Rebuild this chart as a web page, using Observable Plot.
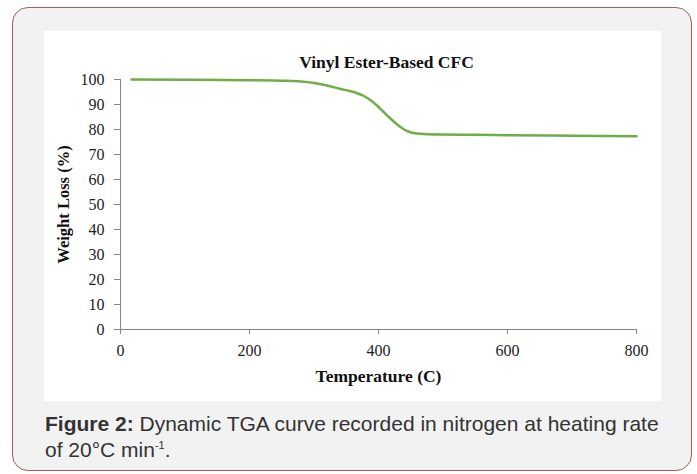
<!DOCTYPE html>
<html>
<head>
<meta charset="utf-8">
<script src="https://cdn.jsdelivr.net/npm/d3@7"></script>
<script src="https://cdn.jsdelivr.net/npm/@observablehq/plot@0.6"></script>
<style>
  html, body { margin: 0; padding: 0; background: #ffffff; }
  #frame {
    position: absolute; left: 12px; top: 7px; width: 680px; height: 464px;
    border: 1.5px solid #a4604f; border-radius: 16px; background: #f2f2f2;
    box-sizing: border-box;
  }
  #chart { position: absolute; left: 44px; top: 31px; width: 617px; height: 370px; background: #fff; }
  #chart svg { display: block; }
  #caption {
    position: absolute; left: 45px; top: 411px; white-space: nowrap;
    font-family: "Liberation Sans", Arial, sans-serif; font-size: 21px; line-height: 26px; color: #333;
  }
  #caption sup { font-size: 11px; vertical-align: 8px; line-height: 0; }
</style>
</head>
<body>
<div id="frame"></div>
<div id="chart"></div>
<div id="caption"><b>Figure 2:</b> Dynamic TGA curve recorded in nitrogen at heating rate<br>of 20°C min<sup>-1</sup>.</div>
<script>
const temperature = [17, 100, 200, 250, 280, 300, 320, 340, 355, 367, 378, 388, 398, 408, 418, 429, 438, 445, 452, 460, 470, 500, 550, 600, 700, 800];
const weightLoss = [100, 99.9, 99.7, 99.5, 99.2, 98.6, 97.6, 96.3, 95.4, 94.5, 93.3, 91.7, 89.5, 87.0, 84.5, 82.0, 80.3, 79.3, 78.7, 78.4, 78.2, 78.0, 77.9, 77.7, 77.5, 77.3];
const xTicks = [0, 200, 400, 600, 800];
const yTicks = [0, 10, 20, 30, 40, 50, 60, 70, 80, 90, 100];
const title = "Vinyl Ester-Based CFC";
const xLabel = "Temperature (C)";
const yLabel = "Weight Loss (%)";

const data = temperature.map((t, i) => ({t, w: weightLoss[i]}));
const serif = "'Liberation Serif', 'Times New Roman', serif";
const axisColor = "#868686";

const chart = Plot.plot({
  width: 617,
  height: 370,
  marginLeft: 76,
  marginRight: 25,
  marginTop: 48,
  marginBottom: 72,
  style: {fontFamily: serif, fontSize: "16px", color: "#222", background: "#fff", overflow: "visible"},
  x: {domain: [0, 800]},
  y: {domain: [0, 100]},
  marks: [
    Plot.axisY({ticks: yTicks, tickSize: 6, tickPadding: 10, stroke: axisColor, label: null, fontSize: 16}),
    Plot.axisX({ticks: xTicks, tickSize: 5, tickPadding: 10, stroke: axisColor, label: null, fontSize: 16}),
    Plot.ruleX([0], {stroke: axisColor, strokeWidth: 1}),
    Plot.ruleY([0], {stroke: axisColor, strokeWidth: 1}),
    Plot.line(data, {x: "t", y: "w", stroke: "#70ad47", strokeWidth: 2.5, curve: "monotone-x"}),
    Plot.text([title], {frameAnchor: "top", lineAnchor: "middle", dx: 8, dy: -17, text: d => d, fontWeight: "bold", fontSize: 17.5, fill: "#111"}),
    Plot.text([xLabel], {frameAnchor: "bottom", lineAnchor: "middle", dy: 47, text: d => d, fontWeight: "bold", fontSize: 17.5, fill: "#111"}),
    Plot.text([yLabel], {frameAnchor: "left", textAnchor: "middle", lineAnchor: "middle", dx: -57, rotate: -90, text: d => d, fontWeight: "bold", fontSize: 16.5, fill: "#111"})
  ]
});
document.getElementById("chart").appendChild(chart);
</script>
</body>
</html>
